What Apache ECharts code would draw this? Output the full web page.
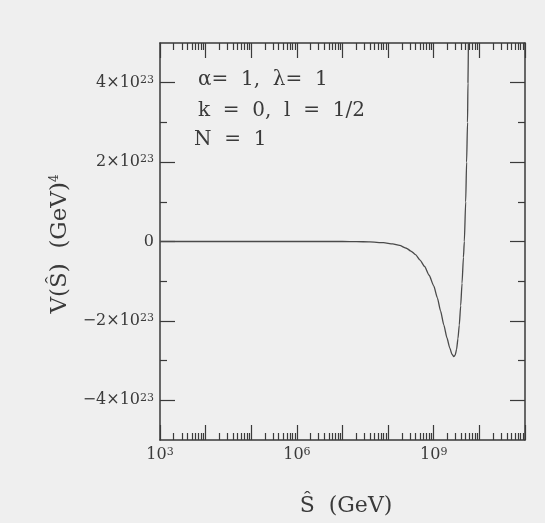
<!DOCTYPE html>
<html>
<head>
<meta charset="utf-8">
<script src="https://cdn.jsdelivr.net/npm/echarts@6/dist/echarts.min.js"></script>
<style>
html,body{margin:0;padding:0;background:#efefef;}
#chart{width:545px;height:523px;}
</style>
</head>
<body>
<div id="chart"></div>
<script>
// Data (S in GeV, V in GeV^4)
const sValues = [1e3, 1e5, 1e7, 2.0e7, 3.98e7, 7.94e7, 1.26e8, 1.78e8, 2.51e8, 3.16e8, 3.98e8, 5.01e8, 6.31e8, 7.94e8, 1e9, 1.20e9, 1.41e9, 1.66e9, 1.95e9, 2.24e9, 2.51e9, 2.75e9, 2.95e9, 3.16e9, 3.39e9, 3.63e9, 3.89e9, 4.17e9, 4.47e9, 4.68e9, 5.01e9, 5.25e9, 5.50e9, 5.62e9, 5.75e9];
const vValues = [0, 0, 0, -0.003e23, -0.01e23, -0.03e23, -0.06e23, -0.1e23, -0.17e23, -0.24e23, -0.33e23, -0.47e23, -0.63e23, -0.85e23, -1.12e23, -1.42e23, -1.75e23, -2.1e23, -2.43e23, -2.68e23, -2.84e23, -2.9e23, -2.86e23, -2.72e23, -2.45e23, -2.1e23, -1.62e23, -1.05e23, -0.4e23, 0, 1.0e23, 2.0e23, 3.0e23, 4.0e23, 5.0e23];

// Axis ticks / labels
const xMajorTicks = [1e3, 1e4, 1e5, 1e6, 1e7, 1e8, 1e9, 1e10, 1e11];
const xMinorTicks = [];
for (let e = 3; e < 11; e++) { for (let k = 2; k <= 9; k++) xMinorTicks.push(k * Math.pow(10, e)); }
const xLabelValues = [1e3, 1e6, 1e9];
const yMajorTicks = [-4e23, -2e23, 0, 2e23, 4e23];
const yMinorTicks = [-3e23, -1e23, 1e23, 3e23];
const yLabelValues = [-4e23, -2e23, 0, 2e23, 4e23];
const annotations = ['α=  1,  λ=  1', 'k  =  0,  l  =  1/2', 'N  =  1'];

const ink = '#3a3a3a';
const serif = '"DejaVu Serif", "Liberation Serif", serif';
const X_MIN = 1e3, X_MAX = 1e11, Y_MIN = -5e23, Y_MAX = 5e23;

function xAx(pos, ticks, len, showLine, labels) {
  return {
    type: 'log', logBase: 10, position: pos, min: X_MIN, max: X_MAX,
    axisLine: { show: showLine, onZero: false, lineStyle: { color: ink, width: 1.5 } },
    axisTick: { show: true, inside: true, length: len, customValues: ticks, lineStyle: { color: ink, width: 1.2 } },
    minorTick: { show: false },
    splitLine: { show: false },
    axisLabel: labels ? {
      show: true, customValues: labels, margin: 7, color: ink, fontFamily: serif, fontSize: 16,
      formatter: v => '10{s|' + Math.round(Math.log10(v)) + '}',
      rich: { s: { fontSize: 11, fontFamily: serif, color: ink, verticalAlign: 'top', lineHeight: 10 } }
    } : { show: false }
  };
}
function yAx(pos, ticks, len, showLine, labels) {
  return {
    type: 'value', position: pos, min: Y_MIN, max: Y_MAX,
    axisLine: { show: showLine, onZero: false, lineStyle: { color: ink, width: 1.5 } },
    axisTick: { show: true, inside: true, length: len, customValues: ticks, lineStyle: { color: ink, width: 1.2 } },
    splitLine: { show: false },
    axisLabel: labels ? {
      show: true, customValues: labels, margin: 6, color: ink, fontFamily: serif, fontSize: 16,
      formatter: v => {
        if (v === 0) return '0';
        const m = Math.round(v / 1e23);
        return (m < 0 ? '\u2212' : '') + Math.abs(m) + '×10{s|23}';
      },
      rich: { s: { fontSize: 11, fontFamily: serif, color: ink, verticalAlign: 'top', lineHeight: 10 } }
    } : { show: false }
  };
}

const chart = echarts.init(document.getElementById('chart'), null, { renderer: 'canvas' });
chart.setOption({
  backgroundColor: '#efefef',
  animation: false,
  grid: { left: 160, top: 43, width: 365, height: 397, containLabel: false },
  xAxis: [
    xAx('bottom', xMajorTicks, 15, true, xLabelValues),
    xAx('bottom', xMinorTicks, 7, false, null),
    xAx('top', xMajorTicks, 15, true, null),
    xAx('top', xMinorTicks, 7, false, null)
  ],
  yAxis: [
    yAx('left', yMajorTicks, 15, true, yLabelValues),
    yAx('left', yMinorTicks, 7, false, null),
    yAx('right', yMajorTicks, 15, true, null),
    yAx('right', yMinorTicks, 7, false, null)
  ],
  series: [{
    type: 'line', xAxisIndex: 0, yAxisIndex: 0, showSymbol: false, smooth: 0.2, smoothMonotone: 'x', clip: true,
    lineStyle: { color: '#4a4a4a', width: 1.3 },
    data: sValues.map((s, i) => [s, vValues[i]])
  }],
  graphic: [
    { type: 'text', x: 346, y: 506, style: { text: 'Ŝ  (GeV)', font: '22px ' + serif, fill: ink, textAlign: 'center', textVerticalAlign: 'middle' } },
    { type: 'text', x: 60, y: 244, rotation: Math.PI / 2,
      style: { text: 'V(Ŝ)  (GeV){s|4}', font: '23px ' + serif, fill: ink, align: 'center', verticalAlign: 'middle',
        rich: { s: { fontSize: 12, fontFamily: serif, fill: ink, verticalAlign: 'top', lineHeight: 12 } } } },
    { type: 'text', x: 198, y: 80, style: { text: annotations[0], font: '20px ' + serif, fill: ink, textVerticalAlign: 'middle' } },
    { type: 'text', x: 198, y: 111, style: { text: annotations[1], font: '20px ' + serif, fill: ink, textVerticalAlign: 'middle' } },
    { type: 'text', x: 194, y: 140, style: { text: annotations[2], font: '20px ' + serif, fill: ink, textVerticalAlign: 'middle' } }
  ]
});
</script>
</body>
</html>
